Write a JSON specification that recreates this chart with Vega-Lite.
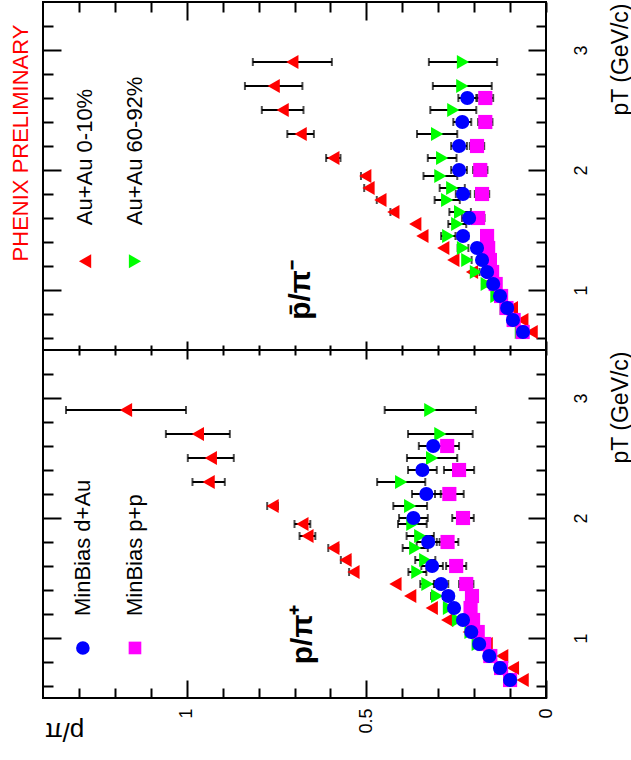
{
  "$schema": "https://vega.github.io/schema/vega-lite/v6.json",
  "background": "white",
  "padding": {"left": 9, "top": 0, "right": 0, "bottom": 20},
  "config": {
    "view": {"stroke": "black", "strokeWidth": 2},
    "font": "Liberation Sans",
    "axis": {"domain": false, "grid": false, "tickColor": "black", "tickWidth": 2, "labelColor": "black", "titleColor": "black", "labelFont": "Liberation Sans", "titleFont": "Liberation Sans", "labelFlush": false, "labelOverlap": false, "titleFontWeight": "normal"}
  },
  "datasets": {
    "pts": [
      {"panel":"neg","series":"AuAu 0-10%","pt":0.65,"ratio":0.04,"err":0},
      {"panel":"neg","series":"AuAu 0-10%","pt":0.75,"ratio":0.066,"err":0},
      {"panel":"neg","series":"AuAu 0-10%","pt":0.85,"ratio":0.095,"err":0},
      {"panel":"neg","series":"AuAu 0-10%","pt":0.95,"ratio":0.125,"err":0},
      {"panel":"neg","series":"AuAu 0-10%","pt":1.05,"ratio":0.165,"err":0},
      {"panel":"neg","series":"AuAu 0-10%","pt":1.15,"ratio":0.206,"err":0},
      {"panel":"neg","series":"AuAu 0-10%","pt":1.25,"ratio":0.258,"err":0},
      {"panel":"neg","series":"AuAu 0-10%","pt":1.35,"ratio":0.286,"err":0},
      {"panel":"neg","series":"AuAu 0-10%","pt":1.45,"ratio":0.344,"err":0},
      {"panel":"neg","series":"AuAu 0-10%","pt":1.55,"ratio":0.364,"err":0},
      {"panel":"neg","series":"AuAu 0-10%","pt":1.65,"ratio":0.425,"err":0.008},
      {"panel":"neg","series":"AuAu 0-10%","pt":1.75,"ratio":0.461,"err":0.01},
      {"panel":"neg","series":"AuAu 0-10%","pt":1.85,"ratio":0.494,"err":0.012},
      {"panel":"neg","series":"AuAu 0-10%","pt":1.95,"ratio":0.503,"err":0.012},
      {"panel":"neg","series":"AuAu 0-10%","pt":2.1,"ratio":0.592,"err":0.02},
      {"panel":"neg","series":"AuAu 0-10%","pt":2.3,"ratio":0.683,"err":0.037},
      {"panel":"neg","series":"AuAu 0-10%","pt":2.5,"ratio":0.733,"err":0.058},
      {"panel":"neg","series":"AuAu 0-10%","pt":2.7,"ratio":0.758,"err":0.08},
      {"panel":"neg","series":"AuAu 0-10%","pt":2.9,"ratio":0.706,"err":0.11},
      {"panel":"neg","series":"AuAu 60-92%","pt":0.65,"ratio":0.07,"err":0.004},
      {"panel":"neg","series":"AuAu 60-92%","pt":0.75,"ratio":0.09,"err":0.005},
      {"panel":"neg","series":"AuAu 60-92%","pt":0.85,"ratio":0.112,"err":0.006},
      {"panel":"neg","series":"AuAu 60-92%","pt":0.95,"ratio":0.138,"err":0.007},
      {"panel":"neg","series":"AuAu 60-92%","pt":1.05,"ratio":0.165,"err":0.008},
      {"panel":"neg","series":"AuAu 60-92%","pt":1.15,"ratio":0.195,"err":0.01},
      {"panel":"neg","series":"AuAu 60-92%","pt":1.25,"ratio":0.219,"err":0.012},
      {"panel":"neg","series":"AuAu 60-92%","pt":1.35,"ratio":0.231,"err":0.015},
      {"panel":"neg","series":"AuAu 60-92%","pt":1.45,"ratio":0.272,"err":0.02},
      {"panel":"neg","series":"AuAu 60-92%","pt":1.55,"ratio":0.247,"err":0.025},
      {"panel":"neg","series":"AuAu 60-92%","pt":1.65,"ratio":0.239,"err":0.03},
      {"panel":"neg","series":"AuAu 60-92%","pt":1.75,"ratio":0.275,"err":0.035},
      {"panel":"neg","series":"AuAu 60-92%","pt":1.85,"ratio":0.261,"err":0.035},
      {"panel":"neg","series":"AuAu 60-92%","pt":1.95,"ratio":0.294,"err":0.047},
      {"panel":"neg","series":"AuAu 60-92%","pt":2.1,"ratio":0.289,"err":0.04},
      {"panel":"neg","series":"AuAu 60-92%","pt":2.3,"ratio":0.303,"err":0.056},
      {"panel":"neg","series":"AuAu 60-92%","pt":2.5,"ratio":0.258,"err":0.064},
      {"panel":"neg","series":"AuAu 60-92%","pt":2.7,"ratio":0.233,"err":0.082},
      {"panel":"neg","series":"AuAu 60-92%","pt":2.9,"ratio":0.231,"err":0.095},
      {"panel":"neg","series":"p+p","pt":0.65,"ratio":0.065,"err":0.003},
      {"panel":"neg","series":"p+p","pt":0.75,"ratio":0.09,"err":0.004},
      {"panel":"neg","series":"p+p","pt":0.85,"ratio":0.11,"err":0.005},
      {"panel":"neg","series":"p+p","pt":0.95,"ratio":0.125,"err":0.006},
      {"panel":"neg","series":"p+p","pt":1.05,"ratio":0.14,"err":0.007},
      {"panel":"neg","series":"p+p","pt":1.15,"ratio":0.15,"err":0.008},
      {"panel":"neg","series":"p+p","pt":1.25,"ratio":0.156,"err":0.01},
      {"panel":"neg","series":"p+p","pt":1.35,"ratio":0.161,"err":0.012},
      {"panel":"neg","series":"p+p","pt":1.45,"ratio":0.164,"err":0.014},
      {"panel":"neg","series":"p+p","pt":1.6,"ratio":0.189,"err":0.018},
      {"panel":"neg","series":"p+p","pt":1.8,"ratio":0.178,"err":0.02},
      {"panel":"neg","series":"p+p","pt":2.0,"ratio":0.183,"err":0.02},
      {"panel":"neg","series":"p+p","pt":2.2,"ratio":0.192,"err":0.02},
      {"panel":"neg","series":"p+p","pt":2.4,"ratio":0.169,"err":0.02},
      {"panel":"neg","series":"p+p","pt":2.6,"ratio":0.169,"err":0.022},
      {"panel":"neg","series":"d+Au","pt":0.65,"ratio":0.064,"err":0.003},
      {"panel":"neg","series":"d+Au","pt":0.75,"ratio":0.092,"err":0.004},
      {"panel":"neg","series":"d+Au","pt":0.85,"ratio":0.108,"err":0.005},
      {"panel":"neg","series":"d+Au","pt":0.95,"ratio":0.128,"err":0.006},
      {"panel":"neg","series":"d+Au","pt":1.05,"ratio":0.147,"err":0.007},
      {"panel":"neg","series":"d+Au","pt":1.15,"ratio":0.164,"err":0.008},
      {"panel":"neg","series":"d+Au","pt":1.25,"ratio":0.178,"err":0.01},
      {"panel":"neg","series":"d+Au","pt":1.35,"ratio":0.192,"err":0.012},
      {"panel":"neg","series":"d+Au","pt":1.45,"ratio":0.231,"err":0.015},
      {"panel":"neg","series":"d+Au","pt":1.6,"ratio":0.214,"err":0.02},
      {"panel":"neg","series":"d+Au","pt":1.8,"ratio":0.231,"err":0.02},
      {"panel":"neg","series":"d+Au","pt":2.0,"ratio":0.242,"err":0.022},
      {"panel":"neg","series":"d+Au","pt":2.2,"ratio":0.242,"err":0.022},
      {"panel":"neg","series":"d+Au","pt":2.4,"ratio":0.233,"err":0.025},
      {"panel":"neg","series":"d+Au","pt":2.6,"ratio":0.219,"err":0.025},
      {"panel":"pos","series":"AuAu 0-10%","pt":0.65,"ratio":0.065,"err":0},
      {"panel":"pos","series":"AuAu 0-10%","pt":0.75,"ratio":0.092,"err":0},
      {"panel":"pos","series":"AuAu 0-10%","pt":0.85,"ratio":0.122,"err":0},
      {"panel":"pos","series":"AuAu 0-10%","pt":0.95,"ratio":0.165,"err":0},
      {"panel":"pos","series":"AuAu 0-10%","pt":1.05,"ratio":0.215,"err":0},
      {"panel":"pos","series":"AuAu 0-10%","pt":1.15,"ratio":0.275,"err":0},
      {"panel":"pos","series":"AuAu 0-10%","pt":1.25,"ratio":0.318,"err":0},
      {"panel":"pos","series":"AuAu 0-10%","pt":1.35,"ratio":0.378,"err":0},
      {"panel":"pos","series":"AuAu 0-10%","pt":1.45,"ratio":0.419,"err":0},
      {"panel":"pos","series":"AuAu 0-10%","pt":1.55,"ratio":0.536,"err":0.012},
      {"panel":"pos","series":"AuAu 0-10%","pt":1.65,"ratio":0.558,"err":0.013},
      {"panel":"pos","series":"AuAu 0-10%","pt":1.75,"ratio":0.592,"err":0.014},
      {"panel":"pos","series":"AuAu 0-10%","pt":1.85,"ratio":0.664,"err":0.022},
      {"panel":"pos","series":"AuAu 0-10%","pt":1.95,"ratio":0.678,"err":0.022},
      {"panel":"pos","series":"AuAu 0-10%","pt":2.1,"ratio":0.761,"err":0.015},
      {"panel":"pos","series":"AuAu 0-10%","pt":2.3,"ratio":0.939,"err":0.045},
      {"panel":"pos","series":"AuAu 0-10%","pt":2.5,"ratio":0.933,"err":0.064},
      {"panel":"pos","series":"AuAu 0-10%","pt":2.7,"ratio":0.969,"err":0.089},
      {"panel":"pos","series":"AuAu 0-10%","pt":2.9,"ratio":1.169,"err":0.167},
      {"panel":"pos","series":"AuAu 60-92%","pt":0.65,"ratio":0.095,"err":0.005},
      {"panel":"pos","series":"AuAu 60-92%","pt":0.75,"ratio":0.12,"err":0.006},
      {"panel":"pos","series":"AuAu 60-92%","pt":0.85,"ratio":0.148,"err":0.007},
      {"panel":"pos","series":"AuAu 60-92%","pt":0.95,"ratio":0.19,"err":0.008},
      {"panel":"pos","series":"AuAu 60-92%","pt":1.05,"ratio":0.21,"err":0.01},
      {"panel":"pos","series":"AuAu 60-92%","pt":1.15,"ratio":0.245,"err":0.012},
      {"panel":"pos","series":"AuAu 60-92%","pt":1.25,"ratio":0.27,"err":0.014},
      {"panel":"pos","series":"AuAu 60-92%","pt":1.35,"ratio":0.303,"err":0.017},
      {"panel":"pos","series":"AuAu 60-92%","pt":1.45,"ratio":0.33,"err":0.02},
      {"panel":"pos","series":"AuAu 60-92%","pt":1.55,"ratio":0.358,"err":0.025},
      {"panel":"pos","series":"AuAu 60-92%","pt":1.65,"ratio":0.336,"err":0.028},
      {"panel":"pos","series":"AuAu 60-92%","pt":1.75,"ratio":0.364,"err":0.035},
      {"panel":"pos","series":"AuAu 60-92%","pt":1.85,"ratio":0.35,"err":0.038},
      {"panel":"pos","series":"AuAu 60-92%","pt":1.95,"ratio":0.372,"err":0.04},
      {"panel":"pos","series":"AuAu 60-92%","pt":2.1,"ratio":0.378,"err":0.047},
      {"panel":"pos","series":"AuAu 60-92%","pt":2.3,"ratio":0.403,"err":0.067},
      {"panel":"pos","series":"AuAu 60-92%","pt":2.5,"ratio":0.317,"err":0.07},
      {"panel":"pos","series":"AuAu 60-92%","pt":2.7,"ratio":0.294,"err":0.09},
      {"panel":"pos","series":"AuAu 60-92%","pt":2.9,"ratio":0.322,"err":0.127},
      {"panel":"pos","series":"p+p","pt":0.65,"ratio":0.1,"err":0.004},
      {"panel":"pos","series":"p+p","pt":0.75,"ratio":0.125,"err":0.005},
      {"panel":"pos","series":"p+p","pt":0.85,"ratio":0.155,"err":0.006},
      {"panel":"pos","series":"p+p","pt":0.95,"ratio":0.172,"err":0.008},
      {"panel":"pos","series":"p+p","pt":1.05,"ratio":0.19,"err":0.01},
      {"panel":"pos","series":"p+p","pt":1.15,"ratio":0.203,"err":0.012},
      {"panel":"pos","series":"p+p","pt":1.25,"ratio":0.21,"err":0.014},
      {"panel":"pos","series":"p+p","pt":1.35,"ratio":0.206,"err":0.016},
      {"panel":"pos","series":"p+p","pt":1.45,"ratio":0.222,"err":0.02},
      {"panel":"pos","series":"p+p","pt":1.6,"ratio":0.25,"err":0.028},
      {"panel":"pos","series":"p+p","pt":1.8,"ratio":0.274,"err":0.03},
      {"panel":"pos","series":"p+p","pt":2.0,"ratio":0.231,"err":0.03},
      {"panel":"pos","series":"p+p","pt":2.2,"ratio":0.269,"err":0.04},
      {"panel":"pos","series":"p+p","pt":2.4,"ratio":0.242,"err":0.042},
      {"panel":"pos","series":"p+p","pt":2.6,"ratio":0.275,"err":0.033},
      {"panel":"pos","series":"d+Au","pt":0.65,"ratio":0.1,"err":0.004},
      {"panel":"pos","series":"d+Au","pt":0.75,"ratio":0.128,"err":0.005},
      {"panel":"pos","series":"d+Au","pt":0.85,"ratio":0.158,"err":0.006},
      {"panel":"pos","series":"d+Au","pt":0.95,"ratio":0.186,"err":0.007},
      {"panel":"pos","series":"d+Au","pt":1.05,"ratio":0.208,"err":0.008},
      {"panel":"pos","series":"d+Au","pt":1.15,"ratio":0.231,"err":0.01},
      {"panel":"pos","series":"d+Au","pt":1.25,"ratio":0.256,"err":0.012},
      {"panel":"pos","series":"d+Au","pt":1.35,"ratio":0.272,"err":0.014},
      {"panel":"pos","series":"d+Au","pt":1.45,"ratio":0.292,"err":0.02},
      {"panel":"pos","series":"d+Au","pt":1.6,"ratio":0.317,"err":0.03},
      {"panel":"pos","series":"d+Au","pt":1.8,"ratio":0.328,"err":0.032},
      {"panel":"pos","series":"d+Au","pt":2.0,"ratio":0.369,"err":0.04},
      {"panel":"pos","series":"d+Au","pt":2.2,"ratio":0.333,"err":0.04},
      {"panel":"pos","series":"d+Au","pt":2.4,"ratio":0.344,"err":0.04},
      {"panel":"pos","series":"d+Au","pt":2.6,"ratio":0.314,"err":0.04}
    ]
  },
  "spacing": 0,
  "bounds": "flush",
  "vconcat": [
    {
      "width": 503,
      "height": 348,
      "resolve": {"axis": {"x": "independent", "y": "independent"}},
      "layer": [
        {
          "data": {"name": "pts"},
          "transform": [{"filter": "datum.panel == 'neg' && datum.err > 0"}],
          "mark": {"type": "errorbar", "ticks": {"size": 8, "thickness": 2}, "rule": {"strokeWidth": 2}, "color": "black"},
          "encoding": {
            "x": {"field": "ratio", "type": "quantitative", "scale": {"domain": [0, 1.4], "reverse": true, "nice": false, "zero": false},
              "axis": {"orient": "bottom", "values": [0,0.1,0.2,0.3,0.4,0.5,0.6,0.7,0.8,0.9,1,1.1,1.2,1.3], "labels": false, "title": null,
                "tickSize": {"condition": {"test": "datum.value == 0 || datum.value == 0.5 || datum.value == 1", "value": -9}, "value": -5}}},
            "xError": {"field": "err"},
            "y": {"field": "pt", "type": "quantitative", "scale": {"domain": [0.5, 3.4], "nice": false, "zero": false},
              "axis": {"orient": "right", "values": [0.6,0.8,1,1.2,1.4,1.6,1.8,2,2.2,2.4,2.6,2.8,3,3.2],
                "labelExpr": "datum.value == 1 ? '1' : datum.value == 2 ? '2' : datum.value == 3 ? '3' : ''",
                "tickSize": {"condition": {"test": "datum.value == 1 || datum.value == 2 || datum.value == 3", "value": -18}, "value": -10},
                "labelAngle": -90, "labelAlign": "center", "labelBaseline": "top", "labelPadding": 44, "labelFontSize": 18,
                "title": "pT (GeV/c)", "titleAngle": -90, "titleX": 74, "titleY": 57, "titleAlign": "center", "titleBaseline": "middle", "titleFontSize": 23}}
          }
        },
        {
          "data": {"name": "pts"},
          "transform": [{"filter": "datum.panel == 'neg'"}],
          "mark": {"type": "point", "filled": true, "opacity": 1},
          "encoding": {
            "x": {"field": "ratio", "type": "quantitative", "scale": {"domain": [0, 1.4], "reverse": true, "nice": false, "zero": false},
              "axis": {"orient": "top", "values": [0,0.1,0.2,0.3,0.4,0.5,0.6,0.7,0.8,0.9,1,1.1,1.2,1.3], "labels": false, "title": null,
                "tickSize": {"condition": {"test": "datum.value == 0.5 || datum.value == 1", "value": -18}, "value": -10}}},
            "y": {"field": "pt", "type": "quantitative", "scale": {"domain": [0.5, 3.4], "nice": false, "zero": false},
              "axis": {"orient": "left", "values": [0.6,0.8,1,1.2,1.4,1.6,1.8,2,2.2,2.4,2.6,2.8,3,3.2], "labels": false, "title": null,
                "tickSize": {"condition": {"test": "datum.value == 1 || datum.value == 2 || datum.value == 3", "value": -18}, "value": -10}}},
            "color": {"field": "series", "type": "nominal", "legend": null, "scale": {"domain": ["AuAu 0-10%", "AuAu 60-92%", "p+p", "d+Au"], "range": ["#ff0000", "#00ff00", "#ff00ff", "#0000ff"]}},
            "shape": {"field": "series", "type": "nominal", "legend": null, "scale": {"domain": ["AuAu 0-10%", "AuAu 60-92%", "p+p", "d+Au"], "range": ["triangle-left", "triangle-right", "square", "circle"]}},
            "size": {"field": "series", "type": "ordinal", "legend": null, "scale": {"domain": ["AuAu 0-10%", "AuAu 60-92%", "p+p", "d+Au"], "range": [200, 200, 160, 185]}}
          }
        },
        {
          "data": {"values": [{"t": "PHENIX PRELIMINARY"}]},
          "mark": {"type": "text", "angle": 270, "align": "center", "baseline": "middle", "fontSize": 22, "color": "#ff0000"},
          "encoding": {
            "x": {"datum": 1.461, "type": "quantitative", "axis": null, "scale": {"domain": [0, 1.4], "reverse": true, "nice": false, "zero": false}},
            "y": {"datum": 2.225, "type": "quantitative", "axis": null, "scale": {"domain": [0.5, 3.4], "nice": false, "zero": false}},
            "text": {"field": "t"}
          }
        },
        {
          "data": {"values": [{"t": "p̄/π⁻"}]},
          "mark": {"type": "text", "angle": 270, "align": "center", "baseline": "middle", "fontSize": 30, "fontWeight": "bold", "color": "black"},
          "encoding": {
            "x": {"datum": 0.683, "type": "quantitative", "axis": null, "scale": {"domain": [0, 1.4], "reverse": true, "nice": false, "zero": false}},
            "y": {"datum": 1.0, "type": "quantitative", "axis": null, "scale": {"domain": [0.5, 3.4], "nice": false, "zero": false}},
            "text": {"field": "t"}
          }
        },
        {
          "data": {"values": [{"t": "Au+Au  0-10%"}]},
          "mark": {"type": "text", "angle": 270, "align": "left", "baseline": "middle", "fontSize": 22, "color": "black"},
          "encoding": {
            "x": {"datum": 1.283, "type": "quantitative", "axis": null, "scale": {"domain": [0, 1.4], "reverse": true, "nice": false, "zero": false}},
            "y": {"datum": 1.54, "type": "quantitative", "axis": null, "scale": {"domain": [0.5, 3.4], "nice": false, "zero": false}},
            "text": {"field": "t"}
          }
        },
        {
          "data": {"values": [{"t": "Au+Au 60-92%"}]},
          "mark": {"type": "text", "angle": 270, "align": "left", "baseline": "middle", "fontSize": 22, "color": "black"},
          "encoding": {
            "x": {"datum": 1.144, "type": "quantitative", "axis": null, "scale": {"domain": [0, 1.4], "reverse": true, "nice": false, "zero": false}},
            "y": {"datum": 1.54, "type": "quantitative", "axis": null, "scale": {"domain": [0.5, 3.4], "nice": false, "zero": false}},
            "text": {"field": "t"}
          }
        },
        {
          "data": {"values": [{"t": "AuAu 0-10%"}]},
          "mark": {"type": "point", "filled": true, "opacity": 1, "shape": "triangle-left", "size": 200, "color": "#ff0000"},
          "encoding": {
            "x": {"datum": 1.283, "type": "quantitative", "axis": null, "scale": {"domain": [0, 1.4], "reverse": true, "nice": false, "zero": false}},
            "y": {"datum": 1.24, "type": "quantitative", "axis": null, "scale": {"domain": [0.5, 3.4], "nice": false, "zero": false}}
          }
        },
        {
          "data": {"values": [{"t": "AuAu 60-92%"}]},
          "mark": {"type": "point", "filled": true, "opacity": 1, "shape": "triangle-right", "size": 200, "color": "#00ff00"},
          "encoding": {
            "x": {"datum": 1.144, "type": "quantitative", "axis": null, "scale": {"domain": [0, 1.4], "reverse": true, "nice": false, "zero": false}},
            "y": {"datum": 1.24, "type": "quantitative", "axis": null, "scale": {"domain": [0.5, 3.4], "nice": false, "zero": false}}
          }
        }
      ]
    },
    {
      "width": 503,
      "height": 348,
      "resolve": {"axis": {"x": "independent", "y": "independent"}},
      "layer": [
        {
          "data": {"name": "pts"},
          "transform": [{"filter": "datum.panel == 'pos' && datum.err > 0"}],
          "mark": {"type": "errorbar", "ticks": {"size": 8, "thickness": 2}, "rule": {"strokeWidth": 2}, "color": "black"},
          "encoding": {
            "x": {"field": "ratio", "type": "quantitative", "scale": {"domain": [0, 1.4], "reverse": true, "nice": false, "zero": false},
              "axis": {"orient": "bottom", "values": [0,0.1,0.2,0.3,0.4,0.5,0.6,0.7,0.8,0.9,1,1.1,1.2,1.3],
                "labelExpr": "datum.value == 0 ? '0' : datum.value == 0.5 ? '0.5' : datum.value == 1 ? '1' : ''",
                "tickSize": {"condition": {"test": "datum.value == 0 || datum.value == 0.5 || datum.value == 1", "value": -18}, "value": -10},
                "labelAngle": -90, "labelAlign": "right", "labelBaseline": "middle", "labelPadding": 28, "labelFontSize": 18,
                "title": "p/π", "titleAngle": 180, "titleX": 21, "titleY": 32, "titleAlign": "center", "titleBaseline": "middle", "titleFontSize": 26}},
            "xError": {"field": "err"},
            "y": {"field": "pt", "type": "quantitative", "scale": {"domain": [0.5, 3.4], "nice": false, "zero": false},
              "axis": {"orient": "right", "values": [0.6,0.8,1,1.2,1.4,1.6,1.8,2,2.2,2.4,2.6,2.8,3,3.2],
                "labelExpr": "datum.value == 1 ? '1' : datum.value == 2 ? '2' : datum.value == 3 ? '3' : ''",
                "tickSize": {"condition": {"test": "datum.value == 1 || datum.value == 2 || datum.value == 3", "value": -18}, "value": -10},
                "labelAngle": -90, "labelAlign": "center", "labelBaseline": "top", "labelPadding": 44, "labelFontSize": 18,
                "title": "pT (GeV/c)", "titleAngle": -90, "titleX": 74, "titleY": 57, "titleAlign": "center", "titleBaseline": "middle", "titleFontSize": 23}}
          }
        },
        {
          "data": {"name": "pts"},
          "transform": [{"filter": "datum.panel == 'pos'"}],
          "mark": {"type": "point", "filled": true, "opacity": 1},
          "encoding": {
            "x": {"field": "ratio", "type": "quantitative", "scale": {"domain": [0, 1.4], "reverse": true, "nice": false, "zero": false},
              "axis": {"orient": "top", "values": [0,0.1,0.2,0.3,0.4,0.5,0.6,0.7,0.8,0.9,1,1.1,1.2,1.3], "labels": false, "title": null,
                "tickSize": {"condition": {"test": "datum.value == 0.5 || datum.value == 1", "value": -9}, "value": -5}}},
            "y": {"field": "pt", "type": "quantitative", "scale": {"domain": [0.5, 3.4], "nice": false, "zero": false},
              "axis": {"orient": "left", "values": [0.6,0.8,1,1.2,1.4,1.6,1.8,2,2.2,2.4,2.6,2.8,3,3.2], "labels": false, "title": null,
                "tickSize": {"condition": {"test": "datum.value == 1 || datum.value == 2 || datum.value == 3", "value": -18}, "value": -10}}},
            "color": {"field": "series", "type": "nominal", "legend": null, "scale": {"domain": ["AuAu 0-10%", "AuAu 60-92%", "p+p", "d+Au"], "range": ["#ff0000", "#00ff00", "#ff00ff", "#0000ff"]}},
            "shape": {"field": "series", "type": "nominal", "legend": null, "scale": {"domain": ["AuAu 0-10%", "AuAu 60-92%", "p+p", "d+Au"], "range": ["triangle-left", "triangle-right", "square", "circle"]}},
            "size": {"field": "series", "type": "ordinal", "legend": null, "scale": {"domain": ["AuAu 0-10%", "AuAu 60-92%", "p+p", "d+Au"], "range": [200, 200, 160, 185]}}
          }
        },
        {
          "data": {"values": [{"t": "p/π⁺"}]},
          "mark": {"type": "text", "angle": 270, "align": "center", "baseline": "middle", "fontSize": 30, "fontWeight": "bold", "color": "black"},
          "encoding": {
            "x": {"datum": 0.675, "type": "quantitative", "axis": null, "scale": {"domain": [0, 1.4], "reverse": true, "nice": false, "zero": false}},
            "y": {"datum": 1.03, "type": "quantitative", "axis": null, "scale": {"domain": [0.5, 3.4], "nice": false, "zero": false}},
            "text": {"field": "t"}
          }
        },
        {
          "data": {"values": [{"t": "MinBias d+Au"}]},
          "mark": {"type": "text", "angle": 270, "align": "left", "baseline": "middle", "fontSize": 22, "color": "black"},
          "encoding": {
            "x": {"datum": 1.289, "type": "quantitative", "axis": null, "scale": {"domain": [0, 1.4], "reverse": true, "nice": false, "zero": false}},
            "y": {"datum": 1.183, "type": "quantitative", "axis": null, "scale": {"domain": [0.5, 3.4], "nice": false, "zero": false}},
            "text": {"field": "t"}
          }
        },
        {
          "data": {"values": [{"t": "MinBias p+p"}]},
          "mark": {"type": "text", "angle": 270, "align": "left", "baseline": "middle", "fontSize": 22, "color": "black"},
          "encoding": {
            "x": {"datum": 1.144, "type": "quantitative", "axis": null, "scale": {"domain": [0, 1.4], "reverse": true, "nice": false, "zero": false}},
            "y": {"datum": 1.183, "type": "quantitative", "axis": null, "scale": {"domain": [0.5, 3.4], "nice": false, "zero": false}},
            "text": {"field": "t"}
          }
        },
        {
          "data": {"values": [{"t": "d+Au"}]},
          "mark": {"type": "point", "filled": true, "opacity": 1, "shape": "circle", "size": 185, "color": "#0000ff"},
          "encoding": {
            "x": {"datum": 1.289, "type": "quantitative", "axis": null, "scale": {"domain": [0, 1.4], "reverse": true, "nice": false, "zero": false}},
            "y": {"datum": 0.917, "type": "quantitative", "axis": null, "scale": {"domain": [0.5, 3.4], "nice": false, "zero": false}}
          }
        },
        {
          "data": {"values": [{"t": "p+p"}]},
          "mark": {"type": "point", "filled": true, "opacity": 1, "shape": "square", "size": 160, "color": "#ff00ff"},
          "encoding": {
            "x": {"datum": 1.144, "type": "quantitative", "axis": null, "scale": {"domain": [0, 1.4], "reverse": true, "nice": false, "zero": false}},
            "y": {"datum": 0.917, "type": "quantitative", "axis": null, "scale": {"domain": [0.5, 3.4], "nice": false, "zero": false}}
          }
        }
      ]
    }
  ]
}
